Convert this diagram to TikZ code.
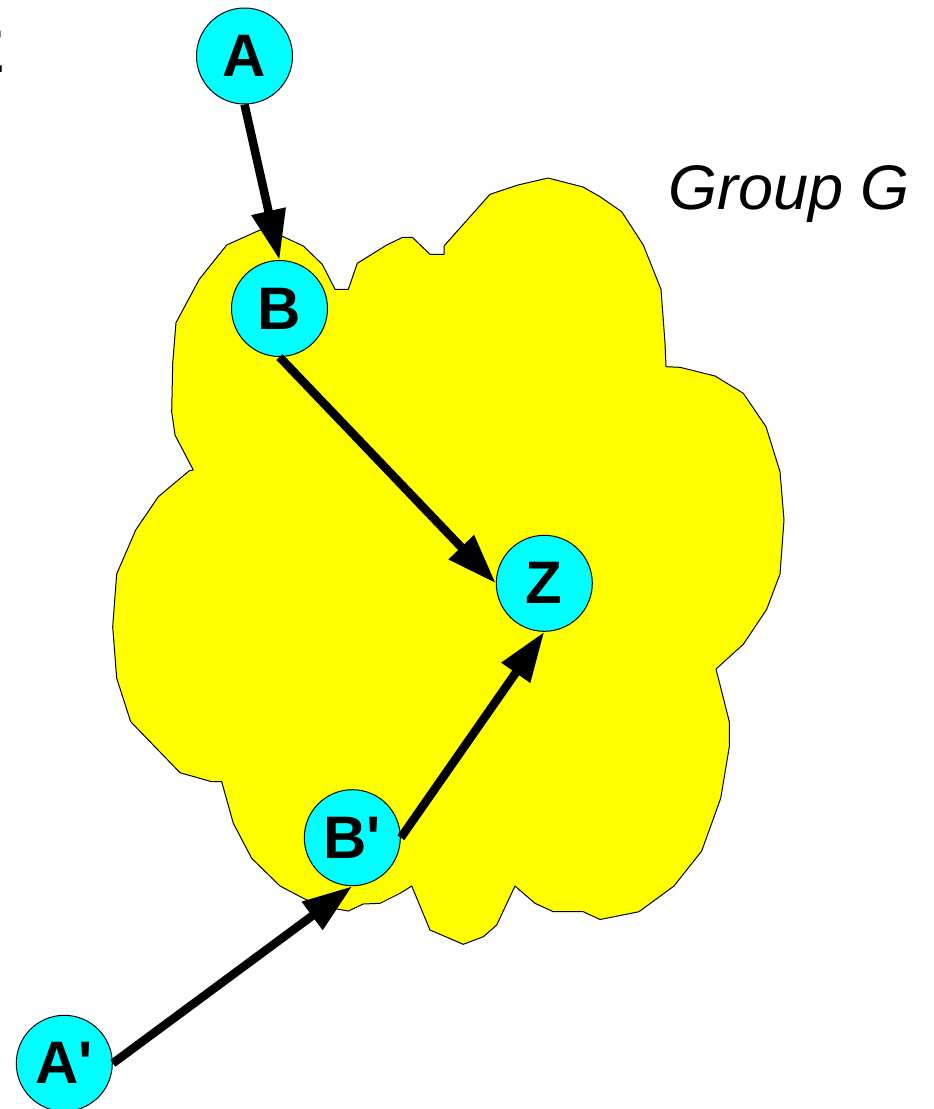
\documentclass[tikz,border=0pt]{standalone}
\usepackage{fontspec}
\setmainfont{Liberation Sans}
\usetikzlibrary{arrows.meta}
\definecolor{nodecyan}{RGB}{0,255,255}
\definecolor{groupyellow}{RGB}{255,255,0}
\begin{document}
\begin{tikzpicture}[x=1pt,y=-1pt,
  vertex/.style={circle,draw=black,line width=1pt,fill=nodecyan,minimum size=96pt,inner sep=0pt,
    font=\fontsize{60}{72}\selectfont\bfseries},
  link/.style={line width=8.5pt,-{Triangle[length=50pt,width=33pt]}},
  cloud/.style={draw=black,line width=1pt,fill=groupyellow,line join=round}]
\useasboundingbox (0,0) rectangle (934,1109);

% group G outline
\path[cloud] (176,322.7) -- (199.3,279.3) -- (226.7,245) -- (260,230) -- (281.7,236)
  -- (303.3,246) -- (322.3,264.3) -- (335,289.3) -- (348.3,289.3) -- (357.3,263.3)
  -- (386.7,245) -- (402.7,237.3) -- (412.3,237.3) -- (430,254.3) -- (444,254.3)
  -- (444,246) -- (490,194.3) -- (518,185) -- (548,178) -- (583,187) -- (600,196.7)
  -- (621.7,211.7) -- (643.3,245) -- (661,289.3) -- (665,343) -- (666,366.7)
  -- (680,367.3) -- (715,376) -- (743.3,393.3) -- (766,426.7) -- (780,471.7)
  -- (784,520) -- (780,574) -- (766.7,609.3) -- (743.3,644.3) -- (716,669)
  -- (729.3,721.7) -- (729.3,746.7) -- (720.7,798.3) -- (701.7,851) -- (674,886)
  -- (639,911.7) -- (600,919.5) -- (583.3,911.7) -- (553.3,911.7) -- (535,903.3)
  -- (515,886) -- (496.7,925) -- (483.3,936.7) -- (463.3,944.3) -- (430,930)
  -- (411.7,886) -- (400,893.3) -- (380,903.3) -- (363.3,904) -- (348.3,911)
  -- (336.7,909) -- (306.7,900) -- (280,886) -- (251.7,858.3) -- (233.3,823.3)
  -- (221.7,781.7) -- (211.7,781.7) -- (180,772.7) -- (130.7,721.7) -- (116.7,678.3)
  -- (112.7,626.7) -- (116.7,574) -- (135.7,530) -- (158.3,496.7) -- (189.3,470.7)
  -- (193.3,470) -- (175,435) -- (171.7,411.7) -- (172.7,363.3) -- cycle;

\node[anchor=base west,inner sep=0pt,font=\fontsize{63}{75}\selectfont\itshape]
  (grp) at (668,209) {Group G};

% letter running off the left edge
\begin{scope}
  \clip (0,0) rectangle (934,1109);
  \node[anchor=base east,inner sep=0pt,font=\fontsize{60}{72}\selectfont\bfseries]
    (edge) at (5,72.7) {E};
\end{scope}

% vertices
\node[vertex] (A)  at (244.5,56)    {A};
\node[vertex] (B)  at (279.5,308.5) {B};
\node[vertex] (Z)  at (544.3,583.3) {Z};
\node[vertex] (Bp) at (352.3,837.7) {B\textquotesingle};
\node[vertex] (Ap) at (64.3,1063.3) {A\textquotesingle};

% paths into Z
\draw[link] (A.south)  -- (B.north);
\draw[link] (B.south)  -- (Z.west);
\draw[link] (Ap.east)  -- (Bp.south);
\draw[link] (Bp.east)  -- (Z.south);
\end{tikzpicture}
\end{document}
